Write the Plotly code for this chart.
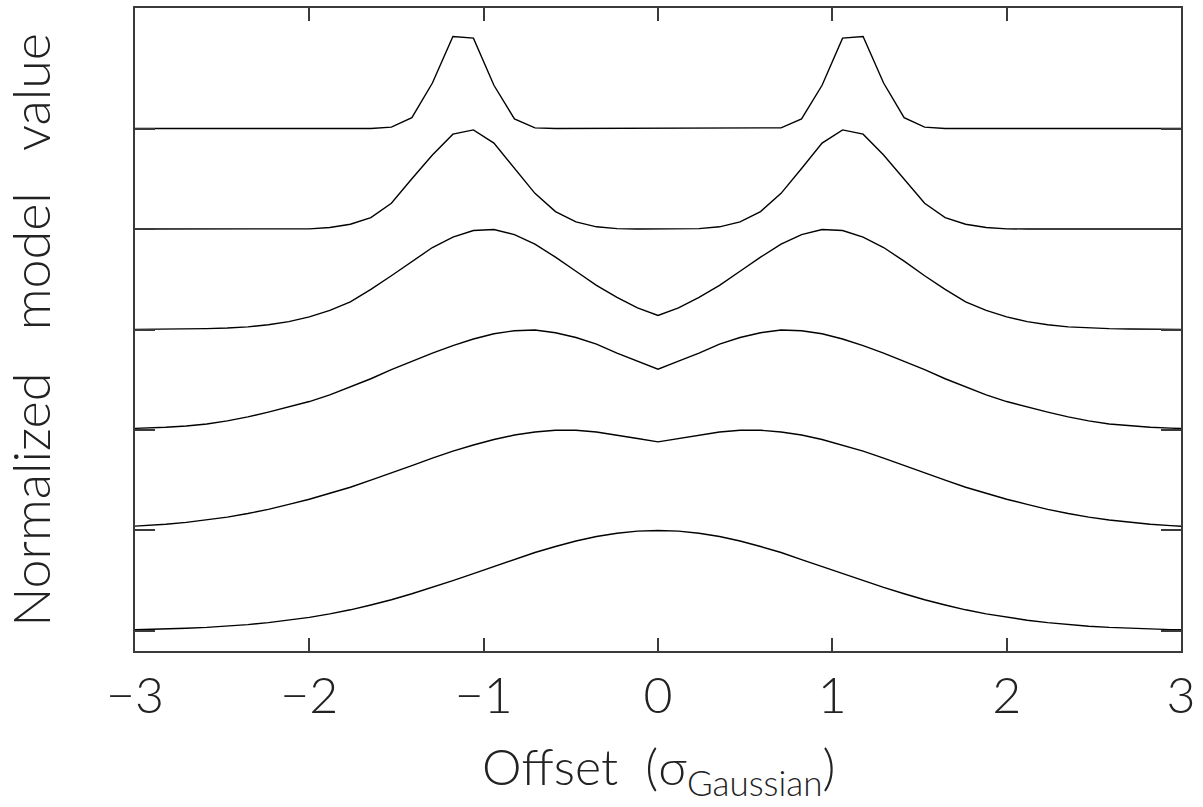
import plotly.graph_objects as go

# Offset in units of sigma_Gaussian (sample grid of the model)
offset_x = [-3.0588, -2.9412, -2.8235, -2.7059, -2.5882, -2.4706, -2.3529, -2.2353, -2.1176, -2.0,
            -1.8824, -1.7647, -1.6471, -1.5294, -1.4118, -1.2941, -1.1765, -1.0588, -0.9412, -0.8235,
            -0.7059, -0.5882, -0.4706, -0.3529, -0.2353, -0.1176, 0.0,
            0.1176, 0.2353, 0.3529, 0.4706, 0.5882, 0.7059, 0.8235, 0.9412, 1.0588, 1.1765,
            1.2941, 1.4118, 1.5294, 1.6471, 1.7647, 1.8824, 2.0, 2.1176, 2.2353, 2.3529,
            2.4706, 2.5882, 2.7059, 2.8235, 2.9412, 3.0588]

# Normalized model values, bottom curve first
model_1 = [0.009, 0.013, 0.018, 0.026, 0.035, 0.047, 0.063, 0.082, 0.106, 0.135, 0.17, 0.21, 0.258,
           0.31, 0.37, 0.433, 0.50, 0.57, 0.64, 0.71, 0.78, 0.84, 0.895, 0.94, 0.972, 0.993, 1.0,
           0.993, 0.972, 0.94, 0.895, 0.84, 0.78, 0.71, 0.64, 0.57, 0.50, 0.433, 0.37, 0.31, 0.258,
           0.21, 0.17, 0.135, 0.106, 0.082, 0.063, 0.047, 0.035, 0.026, 0.018, 0.013, 0.009]

model_2 = [0.036, 0.048, 0.062, 0.08, 0.104, 0.132, 0.168, 0.21, 0.26, 0.31, 0.37, 0.43, 0.50,
           0.57, 0.645, 0.72, 0.79, 0.85, 0.905, 0.95, 0.98, 0.997, 0.997, 0.98, 0.95, 0.915, 0.882,
           0.915, 0.95, 0.98, 0.997, 0.997, 0.98, 0.95, 0.905, 0.85, 0.79, 0.72, 0.645, 0.57, 0.50,
           0.43, 0.37, 0.31, 0.26, 0.21, 0.168, 0.132, 0.104, 0.08, 0.062, 0.048, 0.036]

model_3 = [0.012, 0.018, 0.027, 0.04, 0.06, 0.09, 0.13, 0.178, 0.228, 0.283, 0.35, 0.43, 0.51,
           0.60, 0.685, 0.765, 0.84, 0.905, 0.958, 0.988, 0.995, 0.968, 0.92, 0.855, 0.765, 0.685, 0.605,
           0.685, 0.765, 0.855, 0.92, 0.968, 0.995, 0.988, 0.958, 0.905, 0.84, 0.765, 0.685, 0.60, 0.51,
           0.43, 0.35, 0.283, 0.228, 0.178, 0.13, 0.09, 0.06, 0.04, 0.027, 0.018, 0.012]

model_4 = [0.000, 0.001, 0.002, 0.005, 0.009, 0.015, 0.026, 0.047, 0.078, 0.125, 0.19, 0.275, 0.40,
           0.535, 0.68, 0.816, 0.92, 0.985, 0.995, 0.945, 0.85, 0.72, 0.58, 0.44, 0.32, 0.215, 0.139,
           0.215, 0.32, 0.44, 0.58, 0.72, 0.85, 0.945, 0.995, 0.985, 0.92, 0.816, 0.68, 0.535, 0.40,
           0.275, 0.19, 0.125, 0.078, 0.047, 0.026, 0.015, 0.009, 0.005, 0.002, 0.001, 0.000]

model_5 = [0, 0, 0, 0, 0, 0, 0, 0, 0, 0.002, 0.015, 0.048, 0.114,
           0.256, 0.50, 0.736, 0.944, 0.987, 0.855, 0.603, 0.355, 0.174, 0.071, 0.022, 0.004, 0, 0,
           0, 0.004, 0.022, 0.071, 0.174, 0.355, 0.603, 0.855, 0.987, 0.944, 0.736, 0.50, 0.256, 0.114,
           0.048, 0.015, 0.002, 0, 0, 0, 0, 0, 0, 0, 0, 0]

model_6 = [0, 0, 0, 0, 0, 0, 0, 0, 0, 0, 0, 0, 0.001,
           0.014, 0.109, 0.453, 0.917, 0.900, 0.431, 0.096, 0.007, 0, 0, 0, 0, 0, 0,
           0, 0, 0, 0, 0, 0.007, 0.096, 0.431, 0.900, 0.917, 0.453, 0.109, 0.014, 0.001,
           0, 0, 0, 0, 0, 0, 0, 0, 0, 0, 0, 0]

curves = [model_1, model_2, model_3, model_4, model_5, model_6]
curve_offsets = [0, 1, 2, 3, 4, 5]

x_tick_vals = [-3, -2, -1, 0, 1, 2, 3]
x_tick_text = ["\u22123", "\u22122", "\u22121", "0", "1", "2", "3"]
y_tick_vals = [0, 1, 2, 3, 4, 5]

FONT = "Lato"
AX = "#3a3a3a"
TXT = "#222"

fig = go.Figure()
for vals, off in zip(curves, curve_offsets):
    fig.add_trace(go.Scatter(
        x=offset_x, y=[v + off for v in vals], mode="lines",
        line=dict(color="black", width=1.4), showlegend=False, hoverinfo="skip"))

gap = "\u00a0\u00a0\u00a0"
fig.update_layout(
    width=1203, height=807,
    margin=dict(l=135, r=22, t=6, b=156),
    paper_bgcolor="white", plot_bgcolor="white",
    font=dict(family=FONT, color=TXT, size=50, weight=300),
    xaxis=dict(range=[-3, 3], tickvals=x_tick_vals, ticktext=x_tick_text,
               ticks="inside", ticklen=13, tickwidth=1.5, tickcolor=AX,
               showline=True, linecolor=AX, linewidth=1.5, mirror="ticks",
               showgrid=False, zeroline=False,
               tickfont=dict(family=FONT, size=50, weight=300, color=TXT)),
    yaxis=dict(range=[-0.2, 6.2], tickvals=y_tick_vals, showticklabels=False,
               ticks="inside", ticklen=20, tickwidth=1.5, tickcolor=AX,
               showline=True, linecolor=AX, linewidth=1.5, mirror="ticks",
               showgrid=False, zeroline=False),
    annotations=[
        dict(text="Offset" + "\u00a0\u00a0" + "(\u03c3<sub>Gaussian</sub>)", xref="paper", yref="paper",
             x=0.5, y=-0.24, xanchor="center", yanchor="bottom", showarrow=False,
             font=dict(family=FONT, size=50, weight=300, color=TXT)),
        dict(text="Normalized" + gap + "model" + gap + "value", xref="paper", yref="paper",
             x=-0.101, y=0.5, xanchor="center", yanchor="middle", textangle=-90,
             showarrow=False, font=dict(family=FONT, size=52, weight=300, color=TXT)),
    ],
)

fig.write_html("out.html")
